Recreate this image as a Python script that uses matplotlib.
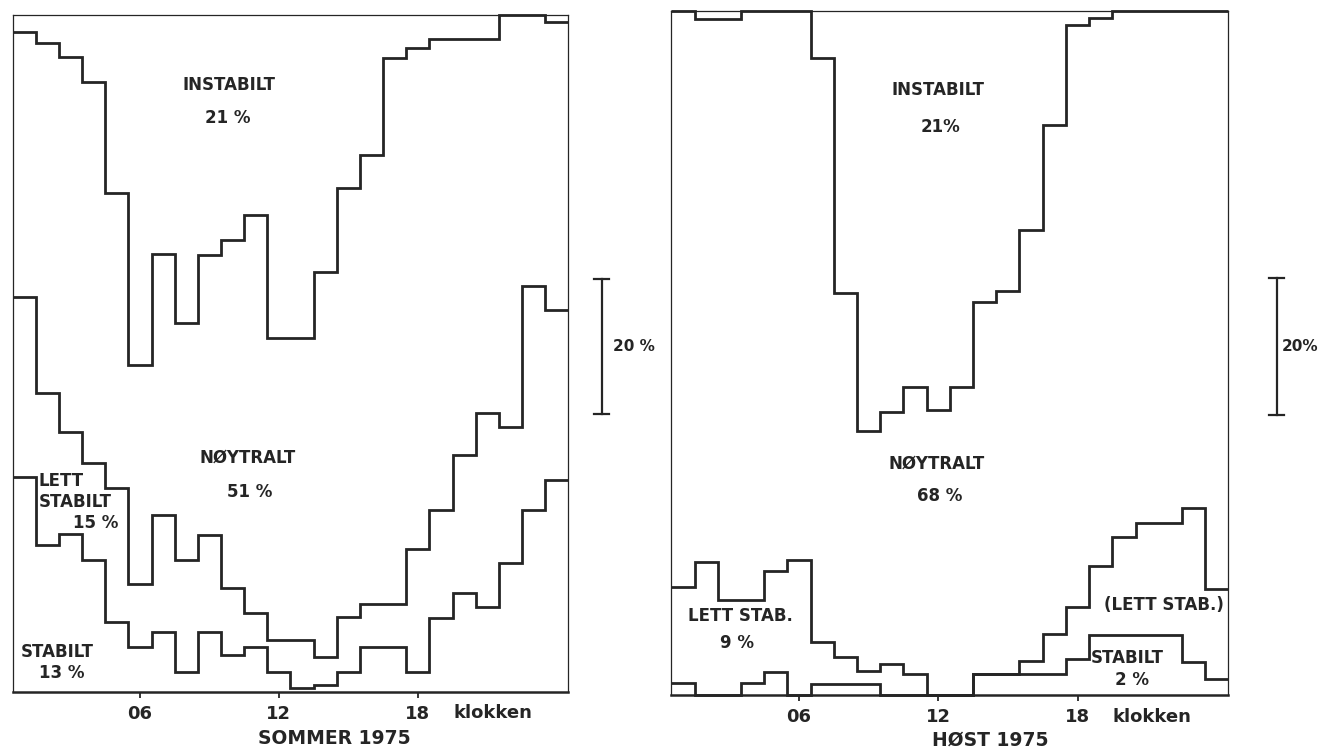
import numpy as np
import matplotlib
matplotlib.use("Agg")
import matplotlib.pyplot as plt
from matplotlib.transforms import blended_transform_factory

# Hourly observations (hour 01 ... 24), share of each stability class in %
hours = np.arange(1, 25)

# Summer 1975
stabilt_sommer = [31.8, 21.7, 23.3, 19.5, 10.4, 6.7, 8.8, 3.0, 8.8, 5.5, 6.7, 3.0,
                  0.6, 1.0, 3.0, 6.7, 6.7, 2.9, 10.9, 14.6, 12.6, 19.0, 26.9, 31.3]
lett_stabilt_sommer = [26.6, 22.4, 15.1, 14.3, 19.8, 9.2, 17.3, 16.5, 14.4, 9.8, 4.9, 4.7,
                       7.1, 4.2, 8.1, 6.3, 6.3, 18.2, 16.0, 20.4, 28.6, 20.2, 33.1, 25.1]
instabilt_sommer = [2.5, 4.1, 6.2, 9.9, 26.3, 51.7, 35.3, 45.5, 35.5, 33.2, 29.5, 47.7,
                    47.7, 37.9, 25.6, 20.7, 6.3, 4.9, 3.6, 3.6, 3.6, 0.0, 0.0, 1.0]

# Autumn 1975
stabilt_host = [1.7, 0.0, 0.0, 1.7, 3.4, 0.0, 1.6, 1.6, 1.6, 0.0, 0.0, 0.0,
                0.0, 3.1, 3.1, 3.1, 3.1, 5.3, 8.7, 8.7, 8.7, 8.7, 4.8, 2.4]
lett_stabilt_host = [14.1, 19.5, 13.9, 12.2, 14.8, 19.8, 6.1, 4.0, 1.9, 4.5, 3.0, 0.0,
                     0.0, 0.0, 0.0, 1.9, 5.8, 7.5, 10.1, 14.4, 16.5, 16.5, 22.6, 13.1]
instabilt_host = [0.0, 1.2, 1.2, 0.0, 0.0, 0.0, 6.8, 41.2, 61.4, 58.6, 54.9, 58.4,
                  54.9, 42.5, 40.9, 32.0, 16.7, 2.1, 1.0, 0.0, 0.0, 0.0, 0.0, 0.0]

tick_hours = [6, 12, 18]
tick_labels = ["06", "12", "18"]
scale_percent = 20

INK = "#252525"
W, H = 1331, 750

plt.rcParams["font.family"] = ["DejaVu Sans"]
fig = plt.figure(figsize=(W / 100, H / 100), dpi=100)
fig.patch.set_facecolor("white")


def fx(x):
    return x / W


def fy(y):
    return 1 - y / H


def label(x, y, s, size=12, ha="center", weight="bold"):
    fig.text(fx(x), fy(y), s, ha=ha, va="center", fontsize=size,
             fontweight=weight, color=INK)


def panel(box, stab, lett, inst):
    x0, y0, x1, y1 = box
    ax = fig.add_axes([fx(x0), fy(y1), (x1 - x0) / W, (y1 - y0) / H])
    edges = np.append(hours - 0.5, hours[-1] + 0.5)
    stab = np.asarray(stab, float)
    lett = np.asarray(lett, float)
    inst = np.asarray(inst, float)
    # cumulative class boundaries: stabilt | lett stabilt | noytralt | instabilt
    for level in (stab, stab + lett, 100 - inst):
        ax.stairs(level, edges, baseline=None, color=INK, linewidth=2.0,
                  clip_on=False, joinstyle="miter")
    ax.set_xlim(edges[0], edges[-1])
    ax.set_ylim(0, 100)
    ax.set_yticks([])
    ax.set_xticks(tick_hours, tick_labels)
    ax.tick_params(axis="x", direction="out", length=4.5, width=1.3, pad=5,
                   labelsize=13, colors=INK)
    for t in ax.get_xticklabels():
        t.set_fontweight("bold")
    for side in ("left", "top", "right"):
        ax.spines[side].set_linewidth(0.9)
        ax.spines[side].set_color(INK)
    ax.spines["bottom"].set_linewidth(1.8)
    ax.spines["bottom"].set_color(INK)
    return ax


def scale_bar(ax, x_px, text_x, text):
    tr = blended_transform_factory(fig.transFigure, ax.transData)
    lo, hi = 41, 41 + scale_percent
    xb = fx(x_px)
    cap = 7.5 / W
    ax.plot([xb, xb], [lo, hi], transform=tr, clip_on=False, color=INK, lw=1.6)
    for yy in (lo, hi):
        ax.plot([xb - cap, xb + cap], [yy, yy], transform=tr, clip_on=False,
                color=INK, lw=1.6)
    ax.text(fx(text_x), (lo + hi) / 2, text, transform=tr, ha="left", va="center",
            fontsize=11, fontweight="bold", color=INK)


ax_s = panel((12.7, 15, 568.3, 692), stabilt_sommer, lett_stabilt_sommer, instabilt_sommer)
ax_h = panel((671.5, 11, 1228.3, 695), stabilt_host, lett_stabilt_host, instabilt_host)

scale_bar(ax_s, 601.5, 613, "20 %")
scale_bar(ax_h, 1276.5, 1282, "20%")

# Summer panel labels
label(229, 85, "INSTABILT")
label(228, 118, "21 %")
label(248, 458, "NØYTRALT")
label(250, 492, "51 %")
label(39, 481, "LETT", ha="left")
label(39, 502, "STABILT", ha="left")
label(96, 523, "15 %")
label(57, 652, "STABILT")
label(62, 673, "13 %")
label(453, 713, "klokken", size=13, ha="left")
label(334, 738, "SOMMER 1975", size=13.5)

# Autumn panel labels
label(938, 90, "INSTABILT")
label(941, 127, "21%")
label(937, 464, "NØYTRALT")
label(940, 496, "68 %")
label(740, 616, "LETT STAB.")
label(737, 643, "9 %")
label(1164, 605, "(LETT STAB.)")
label(1127, 658, "STABILT")
label(1132, 680, "2 %")
label(1113, 717, "klokken", size=13, ha="left")
label(990, 740, "HØST 1975", size=13.5)

fig.savefig("out.png", dpi=100, facecolor="white")
